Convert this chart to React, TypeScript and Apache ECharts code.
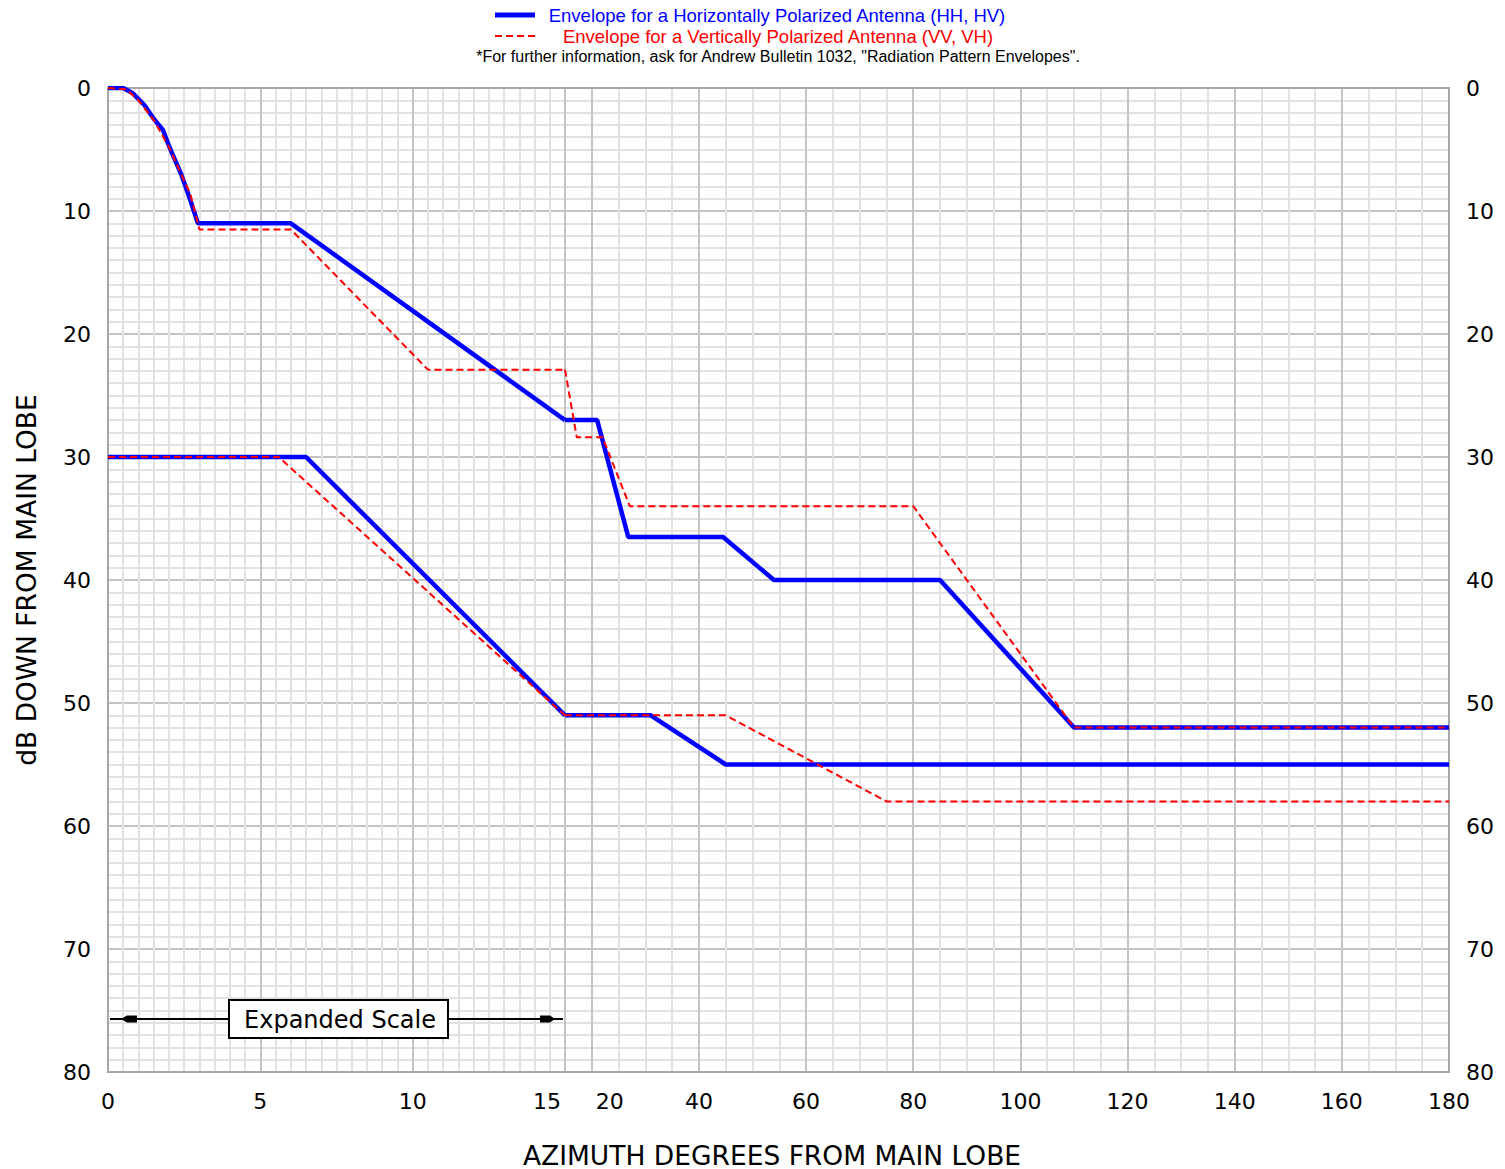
import React, { useEffect, useRef } from "react";
import * as echarts from "echarts";

// [azimuth degrees, dB down from main lobe]
const hhUpper: [number, number][] = [
  [0, 0], [0.5, 0], [0.8, 0.4], [1.2, 1.4], [1.5, 2.5], [1.8, 3.4], [2.0, 4.7],
  [2.4, 7.0], [2.7, 9.1], [2.95, 11], [6.0, 11], [15, 27], [21, 27], [26.8, 36.5],
  [44.5, 36.5], [54, 40], [85, 40], [110, 52], [180, 52],
];
const vvUpper: [number, number][] = [
  [0, 0], [0.6, 0.1], [1.0, 1.0], [1.5, 2.6], [2.0, 4.8], [2.4, 7.0], [2.7, 8.6],
  [3.0, 11.5], [6.0, 11.5], [10.5, 22.9], [15, 22.9], [17.2, 28.4], [22, 28.4],
  [27.1, 34], [80, 34], [110, 52], [180, 52],
];
const hhLower: [number, number][] = [
  [0, 30], [6.5, 30], [15, 51], [31, 51], [45, 55], [180, 55],
];
const vvLower: [number, number][] = [
  [0, 30], [5.6, 30], [15, 51], [45, 51], [75, 58], [180, 58],
];

const SPLIT_DEG = 15;
const X_MAX = 180;
const Y_MAX = 80;

const legendHH = "Envelope for a Horizontally Polarized Antenna (HH, HV)";
const legendVV = "Envelope for a Vertically Polarized Antenna (VV, VH)";
const footnote = '*For further information, ask for Andrew Bulletin 1032, "Radiation Pattern Envelopes".';
const xTitle = "AZIMUTH DEGREES FROM MAIN LOBE";
const yTitle = "dB DOWN FROM MAIN LOBE";
const scaleNote = "Expanded Scale";

const BLUE = "#0000ff";
const RED = "#ff0000";
const MINOR = "#e2e2e2";
const MAJOR = "#c4c4c4";
const BORDER = "#a6a6a6";
const TICK_FONT = "DejaVu Sans";
const LEG_FONT = "Liberation Sans";

const leftPart = (pts: [number, number][]) => pts.filter((p) => p[0] <= SPLIT_DEG);
const rightPart = (pts: [number, number][]) => pts.filter((p) => p[0] >= SPLIT_DEG);

export default function App() {
  const ref = useRef<HTMLDivElement>(null);
  useEffect(() => {
    document.body.style.margin = "0";
    if (!ref.current) return;
    const chart = echarts.init(ref.current, null, { renderer: "svg" });
    const labelStyle = { color: "#000", fontSize: 22, fontFamily: TICK_FONT };
    const yAxisBase = {
      type: "value",
      min: 0,
      max: Y_MAX,
      interval: 10,
      inverse: true,
      axisLine: { show: false },
      axisTick: { show: false },
      splitLine: { show: true, showMinLine: false, showMaxLine: false, lineStyle: { color: MAJOR, width: 2 } },
      minorTick: { show: false, splitNumber: 10 },
      minorSplitLine: { show: true, lineStyle: { color: MINOR, width: 2 } },
    };
    const line = (name: string, data: [number, number][], idx: number, blue: boolean) => ({
      name,
      type: "line",
      xAxisIndex: idx,
      yAxisIndex: idx,
      data,
      symbol: "none",
      silent: true,
      z: blue ? 3 : 4,
      lineStyle: blue
        ? { color: BLUE, width: 4.5 }
        : { color: RED, width: 2, type: [7, 4] },
    });
    chart.setOption({
      animation: false,
      backgroundColor: "#fff",
      grid: [
        { left: 108, top: 88, width: 457, height: 984, show: false, outerBoundsMode: "none" },
        { left: 565, top: 88, width: 884, height: 984, show: false, outerBoundsMode: "none" },
      ],
      xAxis: [
        {
          type: "value",
          gridIndex: 0,
          min: 0,
          max: SPLIT_DEG,
          interval: 5,
          axisLine: { show: false },
          axisTick: { show: false },
          axisLabel: {
            ...labelStyle,
            margin: 18,
            formatter: (v: number) => (v === SPLIT_DEG ? "{s|" + v + "}" : String(v)),
            rich: { s: { ...labelStyle, padding: [0, 36, 0, 0] } },
          },
          splitLine: { show: true, showMinLine: false, showMaxLine: true, lineStyle: { color: MAJOR, width: 2 } },
          minorTick: { show: false, splitNumber: 10 },
          minorSplitLine: { show: true, lineStyle: { color: MINOR, width: 2 } },
        },
        {
          type: "value",
          gridIndex: 1,
          min: SPLIT_DEG,
          max: X_MAX,
          interval: 5,
          axisLine: { show: false },
          axisTick: { show: false },
          axisLabel: {
            ...labelStyle,
            margin: 18,
            showMinLabel: false,
            formatter: (v: number) =>
              v % 20 !== 0 ? "" : v === 20 ? "{t|" + v + "}" : String(v),
            rich: { t: { ...labelStyle, padding: [0, 0, 0, 36] } },
          },
          splitLine: {
            show: true,
            showMinLine: false,
            showMaxLine: false,
            lineStyle: { color: [MAJOR, MINOR, MINOR, MINOR], width: 2 },
          },
        },
      ],
      yAxis: [
        {
          ...yAxisBase,
          gridIndex: 0,
          position: "left",
          axisLabel: { ...labelStyle, margin: 17 },
          name: yTitle,
          nameLocation: "middle",
          nameGap: 68,
          nameRotate: 90,
          nameTextStyle: { color: "#000", fontSize: 26.5, fontFamily: TICK_FONT },
        },
        {
          ...yAxisBase,
          gridIndex: 1,
          position: "right",
          axisLabel: { ...labelStyle, margin: 17 },
        },
      ],
      series: [
        line("HH upper L", leftPart(hhUpper), 0, true),
        line("HH lower L", leftPart(hhLower), 0, true),
        line("HH upper R", rightPart(hhUpper), 1, true),
        line("HH lower R", rightPart(hhLower), 1, true),
        line("VV upper L", leftPart(vvUpper), 0, false),
        line("VV lower L", leftPart(vvLower), 0, false),
        line("VV upper R", rightPart(vvUpper), 1, false),
        line("VV lower R", rightPart(vvLower), 1, false),
      ],
      graphic: [
        { type: "rect", shape: { x: 108, y: 88, width: 1341, height: 984 }, style: { fill: "none", stroke: BORDER, lineWidth: 2 }, z: 1, silent: true },
        { type: "line", shape: { x1: 495, y1: 15, x2: 535, y2: 15 }, style: { stroke: BLUE, lineWidth: 5 }, z: 10 },
        { type: "line", shape: { x1: 495, y1: 36, x2: 535, y2: 36 }, style: { stroke: RED, lineWidth: 2, lineDash: [7, 4] }, z: 10 },
        { type: "text", x: 777, y: 15, style: { text: legendHH, fill: BLUE, font: `18.5px "${LEG_FONT}"`, textAlign: "center", textVerticalAlign: "middle" }, z: 10 },
        { type: "text", x: 778, y: 36, style: { text: legendVV, fill: RED, font: `18.5px "${LEG_FONT}"`, textAlign: "center", textVerticalAlign: "middle" }, z: 10 },
        { type: "text", x: 778, y: 56, style: { text: footnote, fill: "#000", font: `16px "${LEG_FONT}"`, textAlign: "center", textVerticalAlign: "middle" }, z: 10 },
        { type: "text", x: 772, y: 1155, style: { text: xTitle, fill: "#000", font: `26.5px "${TICK_FONT}"`, textAlign: "center", textVerticalAlign: "middle" }, z: 10 },
        { type: "line", shape: { x1: 110, y1: 1019, x2: 563, y2: 1019 }, style: { stroke: "#000", lineWidth: 2 }, z: 10 },
        { type: "polygon", shape: { points: [[121, 1019], [127, 1015.5], [137, 1015.5], [137, 1022.5], [127, 1022.5]] }, style: { fill: "#000" }, z: 10 },
        { type: "polygon", shape: { points: [[540, 1015.5], [550, 1015.5], [555, 1019], [550, 1022.5], [540, 1022.5]] }, style: { fill: "#000" }, z: 10 },
        { type: "rect", shape: { x: 229, y: 1000, width: 219, height: 38 }, style: { fill: "#fff", stroke: "#000", lineWidth: 2 }, z: 11 },
        { type: "text", x: 340, y: 1020, style: { text: scaleNote, fill: "#000", font: `24px "${TICK_FONT}"`, textAlign: "center", textVerticalAlign: "middle" }, z: 12 },
      ],
    });
    return () => chart.dispose();
  }, []);
  return <div ref={ref} style={{ width: 1505, height: 1169 }} />;
}
